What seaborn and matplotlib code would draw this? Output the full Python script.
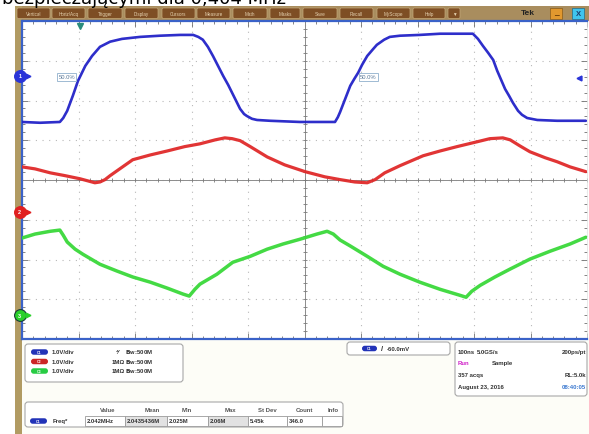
import numpy as np
import pandas as pd
import matplotlib
matplotlib.use("Agg")
import matplotlib.pyplot as plt
import matplotlib.transforms as mtransforms
from matplotlib.patches import FancyBboxPatch, Rectangle
import seaborn as sns

# ---------------- data (time in ns from left edge, volts) ----------------
ch1_t = [0, 32, 67, 73, 80, 90, 99, 112, 124, 138, 156, 177, 209, 244, 280, 303, 312, 320, 329, 338,
         347, 356, 365, 372, 379, 386, 393, 398, 407, 416, 439, 492, 527, 554, 559, 563, 572, 581, 588, 595,
         602, 611, 620, 628, 641, 651, 669, 704, 740, 775, 798, 807, 816, 825, 834, 841, 848, 855, 862, 869,
         878, 885, 894, 912, 947, 970, 998]
ch1_v = [-1.16, -1.18, -1.16, -1.06, -0.88, -0.50, -0.13, 0.25, 0.50, 0.73, 0.86, 0.93, 0.98, 1.01, 1.03, 1.03, 0.98, 0.91, 0.73, 0.50,
         0.25, 0.00, -0.23, -0.43, -0.63, -0.83, -0.96, -1.01, -1.08, -1.11, -1.13, -1.16, -1.16, -1.16, -1.04, -0.91, -0.58, -0.25, -0.08, 0.08,
         0.28, 0.50, 0.65, 0.78, 0.91, 0.98, 1.01, 1.03, 1.06, 1.06, 1.06, 0.93, 0.75, 0.58, 0.40, 0.13, -0.10, -0.33, -0.50, -0.68,
         -0.88, -0.98, -1.06, -1.11, -1.13, -1.13, -1.13]

ch2_t = [0, 23, 50, 76, 103, 129, 138, 147, 156, 173, 196, 227, 257, 288, 315, 342, 359, 372, 386, 404,
         434, 465, 501, 536, 563, 589, 611, 625, 642, 669, 710, 740, 770, 805, 828, 851, 864, 881, 899, 926,
         947, 970, 998]
ch2_v = [1.13, 1.08, 0.98, 0.91, 0.83, 0.73, 0.75, 0.81, 0.91, 1.08, 1.31, 1.43, 1.53, 1.64, 1.71, 1.81, 1.86, 1.84, 1.79, 1.64,
         1.38, 1.18, 1.01, 0.88, 0.81, 0.75, 0.73, 0.81, 0.98, 1.16, 1.41, 1.53, 1.64, 1.76, 1.84, 1.86, 1.81, 1.66, 1.51, 1.36,
         1.26, 1.13, 1.01]

ch3_t = [0, 23, 50, 67, 73, 80, 94, 108, 138, 168, 196, 227, 257, 285, 296, 306, 315, 345, 373, 404,
         434, 462, 492, 522, 540, 551, 563, 581, 611, 639, 669, 704, 740, 775, 786, 796, 811, 837, 864, 899,
         935, 970, 998]
ch3_v = [1.94, 2.04, 2.11, 2.14, 2.01, 1.84, 1.66, 1.53, 1.28, 1.11, 0.96, 0.83, 0.68, 0.53, 0.48, 0.65, 0.78, 1.03, 1.33, 1.48,
         1.66, 1.79, 1.91, 2.04, 2.11, 2.04, 1.89, 1.74, 1.48, 1.23, 1.03, 0.83, 0.65, 0.50, 0.45, 0.60, 0.75, 0.96, 1.16, 1.41,
         1.61, 1.79, 1.96]

channels = ["C1", "C2", "C3"]
ch_offset_div = [2.62, -0.80, -3.40]       # vertical position of each channel (div)
volts_per_div = [1.0, 1.0, 1.0]
trigger_level_v = -0.060
trigger_time_ns = 103

menu_labels = ["Vertical", "Horiz/Acq", "Trigger", "Display", "Cursors", "Measure", "Math", "Masks",
               "Save", "Recall", "MyScope", "Help", "\u25bc"]
ch_scale_text = ["1.0V/div", "1.0V/div", "1.0V/div"]
ch_term_text = ["\u2074\u2044", "1M\u03a9", "1M\u03a9"]
meas_headers = ["Value", "Mean", "Min", "Max", "St Dev", "Count", "Info"]
meas_values = ["2.042MHz", "2.0435436M", "2.025M", "2.06M", "5.45k", "346.0", ""]
meas_name = "Freq*"
acq_lines = [("100ns", "5.0GS/s", "200ps/pt"), ("Run", "Sample", ""), ("357 acqs", "", "RL:5.0k"),
             ("August 23, 2016", "", "08:40:05")]
title_text = "bezpieczającymi dla 0,404 MHz"

# ---------------- figure ----------------
sns.set_style("white")
plt.rcParams['font.family'] = ['Liberation Sans', 'DejaVu Sans']
W, H = 589, 435
fig = plt.figure(figsize=(W / 100, H / 100), dpi=100)
fig.patch.set_facecolor("white")

bg = fig.add_axes([0, 0, 1, 1], zorder=0)
bg.set_xlim(0, W)
bg.set_ylim(H, 0)
bg.axis("off")

# chrome
bg.add_patch(Rectangle((22, 340), 567, 95, fc="#fdfdf7", ec="none"))
bg.add_patch(Rectangle((15, 7), 574, 14.5, fc="#a98d5e", ec="none"))
bg.add_patch(Rectangle((15, 7), 7, 428, fc="#b19b63", ec="none"))
btn_x = [(17, 50), (52, 85), (88, 122), (125, 158), (162, 195), (197, 230), (233, 267), (270, 300),
         (303, 337), (340, 373), (377, 410), (413, 445), (448, 460)]
for (x0, x1), lab in zip(btn_x, menu_labels):
    bg.add_patch(FancyBboxPatch((x0, 9), x1 - x0, 10.5, boxstyle="round,pad=0,rounding_size=1.5",
                                fc="#7e4e24", ec="#c4a878", lw=0.5))
    bg.text((x0 + x1) / 2, 14.3, lab, color="#e6d2b0", fontsize=3.3, ha="center", va="center")
bg.text(528, 13.5, "Tek", fontsize=6, fontweight="bold", ha="center", va="center", color="#222222")
bg.add_patch(Rectangle((550, 8.5), 12, 11, fc="#e2982e", ec="#8a5a18", lw=0.5))
bg.text(556, 13.5, "_", fontsize=6, ha="center", va="center", color="#5a3000", fontweight="bold")
bg.add_patch(Rectangle((572, 8.5), 12, 11, fc="#3fc4ee", ec="#206c8a", lw=0.5))
bg.text(578, 14, "X", fontsize=5.5, ha="center", va="center", color="#1a3a6a", fontweight="bold")

fig.text(2 / W, 1 - 4.5 / H, title_text, fontsize=13, ha="left", va="baseline", color="black",
         family=["DejaVu Sans"])

# ---------------- scope graticule ----------------
ax = fig.add_axes([22 / W, 1 - 340 / H, 565 / W, 318 / H], zorder=2)
ax.set_facecolor("white")
ax.set_xlim(0, 1000)
ax.set_ylim(-4, 4)
ax.set_xticks(np.arange(0, 1001, 100))
ax.set_yticks(np.arange(-4, 4.01, 1))
ax.set_xticks(np.arange(0, 1001, 20), minor=True)
ax.set_yticks(np.arange(-4, 4.01, 0.2), minor=True)
ax.tick_params(which="both", direction="in", top=True, right=True, bottom=True, left=True,
               labelbottom=False, labelleft=False, color="#707070", width=0.6)
ax.tick_params(which="major", length=4.5)
ax.tick_params(which="minor", length=2.5)
ax.grid(which="major", ls=(0, (1, 5)), color="#b8b8b8", lw=0.8)
for s in ["top", "left", "bottom"]:
    ax.spines[s].set_color("#3a62c8")
    ax.spines[s].set_linewidth(1.6)
ax.spines["right"].set_color("#e0e0e0")
ax.spines["right"].set_linewidth(0.5)

ax.axhline(0, color="#8c8c8c", lw=0.7, zorder=1)
ax.axvline(500, color="#8c8c8c", lw=0.7, zorder=1)
mx = np.arange(0, 1001, 20)
my = np.arange(-4, 4.01, 0.2)
ax.plot(mx, np.zeros_like(mx), ls="none", marker="|", ms=3.5, mew=0.6, color="#7a7a7a", zorder=1)
ax.plot(np.full_like(my, 500), my, ls="none", marker="_", ms=3.5, mew=0.6, color="#7a7a7a", zorder=1)

# ---------------- traces ----------------
frames = []
for name, t, v, off, vpd in zip(channels, [ch1_t, ch2_t, ch3_t], [ch1_v, ch2_v, ch3_v],
                                ch_offset_div, volts_per_div):
    frames.append(pd.DataFrame({"ch": name, "t": t, "v": v,
                                "div": np.asarray(v) / vpd + off}))
df = pd.concat(frames, ignore_index=True)

trace_colors = {"C1": "#2222c8", "C2": "#e02a2a", "C3": "#3ad83a"}
trace_lw = {"C1": 1.9, "C2": 2.3, "C3": 2.5}
for name in channels:
    sns.lineplot(data=df[df.ch == name], x="t", y="div", ax=ax, color=trace_colors[name],
                 lw=trace_lw[name], sort=False, estimator=None, legend=False, zorder=3,
                 alpha=0.95)
ax.set_xlabel("")
ax.set_ylabel("")

# channel ground markers on the left edge
blend = mtransforms.blended_transform_factory(ax.transAxes, ax.transData)
mk_colors = {"C1": "#2a34d8", "C2": "#e02020", "C3": "#2ad02a"}
for i, (name, off) in enumerate(zip(channels, ch_offset_div)):
    ax.plot([-0.004], [off], marker="o", ms=8.5, color=mk_colors[name],
            mec="#1a3a3a" if name == "C3" else mk_colors[name], mew=0.8,
            transform=blend, clip_on=False, zorder=6)
    ax.text(-0.004, off, str(i + 1), color="white", fontsize=4, ha="center", va="center",
            transform=blend, zorder=7, fontweight="bold")
    ax.plot([0.011], [off], marker=">", ms=3.5, color=mk_colors[name], transform=blend,
            clip_on=False, zorder=6)
    ax.plot([0.0, 0.011], [off, off], color=mk_colors[name], lw=1.0, transform=blend,
            clip_on=False, zorder=6)

# trigger level arrow (right) and trigger position marker (top)
trig_div = trigger_level_v / volts_per_div[0] + ch_offset_div[0]
ax.plot([0.985], [trig_div], marker="<", ms=3.5, color="#2a34d8", transform=blend, clip_on=False, zorder=6)
blend_top = mtransforms.blended_transform_factory(ax.transData, ax.transAxes)
ax.plot([trigger_time_ns], [0.985], marker="v", ms=5, color="#2a8c7c", transform=blend_top,
        clip_on=False, zorder=6)

# 50% labels
for tc in [79, 613]:
    ax.text(tc, 2.60, "50.0%", fontsize=4.2, color="#5a7898", ha="center", va="center", zorder=5,
            bbox=dict(boxstyle="square,pad=0.25", fc="white", ec="#8fb0cc", lw=0.6))

# ---------------- info panel ----------------
def pill(x0, yc, w, h, color, label):
    bg.add_patch(FancyBboxPatch((x0, yc - h / 2), w, h, boxstyle=f"round,pad=0,rounding_size={h / 2}",
                                fc=color, ec="none"))
    bg.text(x0 + w / 2, yc, label, color="white", fontsize=2.6, ha="center", va="center",
            fontweight="bold")

pill_colors = ["#2233b8", "#cc2626", "#28cc44"]

# channel box
bg.add_patch(FancyBboxPatch((25, 345), 158, 38, boxstyle="round,pad=0,rounding_size=3",
                            fc="white", ec="#a8a8a8", lw=0.8))
for r, (yc, col, nm) in enumerate(zip([353, 362.5, 372], pill_colors, channels)):
    pill(31, yc, 17, 5.5, col, nm)
    bg.text(52, yc, ch_scale_text[r], fontsize=4.3, fontweight="bold", ha="left", va="center", color="#333333")
    bg.text(112 if r else 116, yc, ch_term_text[r], fontsize=4.3, fontweight="bold", ha="left", va="center",
            color="#333333")
    bg.text(125, yc, r"$\mathbf{B_W}$:500M", fontsize=4.3, fontweight="bold", ha="left", va="center",
            color="#333333")

# trigger box
bg.add_patch(FancyBboxPatch((347, 343), 103, 13, boxstyle="round,pad=0,rounding_size=3",
                            fc="white", ec="#a8a8a8", lw=0.8))
pill(362, 349.5, 15, 5.5, pill_colors[0], "C1")
bg.text(381, 349.5, "/", fontsize=5.5, fontweight="bold", ha="left", va="center", color="#333333")
bg.text(387, 349.5, f"{trigger_level_v * 1000:.1f}mV", fontsize=4.3, fontweight="bold", ha="left",
        va="center", color="#333333")

# acquisition box
bg.add_patch(FancyBboxPatch((455, 343), 132, 54, boxstyle="round,pad=0,rounding_size=3",
                            fc="white", ec="#a8a8a8", lw=0.8))
acq_y = [352.5, 364, 376, 388]
acq_col_x = [(458, "left"), (477, "left"), (586, "right")]
for r, (yc, line) in enumerate(zip(acq_y, acq_lines)):
    for c, txt in enumerate(line):
        if not txt:
            continue
        x, ha = acq_col_x[c]
        color = "#333333"
        if r == 1 and c == 0:
            color = "#d020c8"
        if r == 1 and c == 1:
            x = 492
        if r == 3 and c == 2:
            color = "#3a78d0"
        bg.text(x, yc, txt, fontsize=4.3, fontweight="bold", ha=ha, va="center", color=color)

# measurement box
bg.add_patch(FancyBboxPatch((25, 403), 318, 25, boxstyle="round,pad=0,rounding_size=3",
                            fc="white", ec="#a8a8a8", lw=0.8))
head_x = [108, 152, 187, 230, 267, 305, 333]
for hx, htxt in zip(head_x, meas_headers):
    bg.text(hx, 411, htxt, fontsize=4.3, fontweight="bold", ha="center", va="center", color="#555555")
pill(30, 422, 17, 5.5, pill_colors[0], "C1")
bg.text(53, 422, meas_name, fontsize=4.3, fontweight="bold", ha="left", va="center", color="#333333")
cell_x = [85, 125, 167, 208, 248, 287, 322, 342]
for k, val in enumerate(meas_values):
    x0, x1 = cell_x[k], cell_x[k + 1]
    bg.add_patch(Rectangle((x0, 417), x1 - x0, 10, fc="#e2e2e2" if k in (1, 3) else "white",
                           ec="#9a9a9a", lw=0.6))
    if val:
        bg.text(x0 + 1.5, 422, val, fontsize=4.2, fontweight="bold", ha="left", va="center", color="#333333")

fig.savefig("out.png", dpi=100)
